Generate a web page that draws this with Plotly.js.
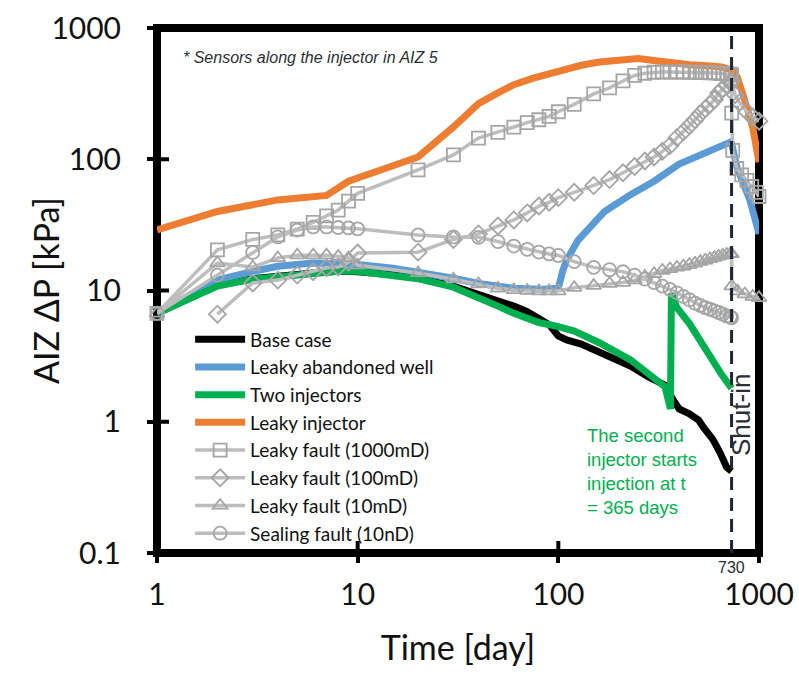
<!DOCTYPE html>
<html>
<head>
<meta charset="utf-8">
<script src="https://cdn.plot.ly/plotly-3.0.1.min.js"></script>
<style>
  html, body { margin: 0; padding: 0; background: #ffffff; }
  #chart { width: 799px; height: 675px; }
</style>
</head>
<body>
<div id="chart"></div>
<script>
// ---------------- data ----------------
const X_TICKS = [1, 10, 100, 1000];
const X_TICK_TEXT = ['1', '10', '100', '1000'];
const Y_TICKS = [0.1, 1, 10, 100, 1000];
const Y_TICK_TEXT = ['0.1', '1', '10', '100', '1000'];
const SHUT_IN_DAY = 730;

const T_BASE = [1, 2, 3, 4, 6, 8, 10, 15, 20, 30, 40, 50, 60, 70, 80, 90, 100, 110, 130, 160, 200, 230, 280, 340, 370, 400, 450, 500, 530, 590, 640, 690, 730];
const P_BASE = [6.7, 11.0, 12.3, 12.9, 13.6, 14.0, 13.9, 13.2, 12.4, 10.8, 9.4, 8.5, 7.6, 6.9, 6.2, 5.5, 4.5, 4.2, 3.9, 3.4, 3.0, 2.65, 2.2, 1.9, 1.5, 1.25, 1.15, 1.03, 0.9, 0.73, 0.58, 0.45, 0.42];

const T_ABANDONED = [1, 2, 3, 4, 6, 8, 10, 15, 20, 30, 40, 50, 60, 80, 100, 105, 110, 125, 150, 170, 230, 300, 400, 530, 670, 720, 730, 776, 900, 1000];
const P_ABANDONED = [6.7, 12.0, 14.0, 15.3, 16.2, 16.2, 15.8, 14.8, 13.8, 12.4, 11.3, 10.7, 10.4, 10.2, 10.4, 14.0, 17.0, 24.0, 33.0, 40.0, 54.0, 68.0, 92.0, 112.0, 130.0, 135.0, 132.0, 87.0, 49.0, 27.0];

const T_TWO_INJ = [1, 2, 3, 4, 6, 8, 10, 15, 20, 30, 40, 50, 60, 80, 100, 120, 160, 230, 340, 362, 366, 390, 450, 500, 600, 650, 730];
const P_TWO_INJ = [6.7, 10.8, 12.2, 12.8, 13.6, 14.0, 14.0, 13.2, 12.3, 10.6, 8.9, 7.6, 6.7, 5.7, 5.3, 4.9, 4.0, 2.95, 1.85, 1.25, 9.5, 7.4, 5.6, 4.3, 2.75, 2.3, 1.8];

const T_LEAKY_INJ = [1, 2, 3, 4, 7, 9, 10, 20, 30, 40, 50, 60, 75, 90, 110, 130, 160, 200, 250, 300, 370, 450, 550, 650, 730, 780, 870, 930, 1000];
const P_LEAKY_INJ = [29, 40, 45, 49, 53, 68, 72, 104, 176, 265, 320, 370, 415, 450, 480, 520, 550, 575, 585, 565, 540, 525, 515, 505, 480, 420, 250, 175, 95];

const T_FAULT_1000 = [1, 2, 3, 4, 5, 6, 7, 8, 9, 10, 20, 30, 40, 50, 60, 70, 80, 90, 100, 120, 150, 180, 210, 240, 270, 300, 330, 360, 390, 420, 450, 480, 510, 540, 570, 600, 630, 660, 690, 720, 730, 731, 740, 775, 820, 870, 920, 970, 1000];
const P_FAULT_1000 = [6.7, 20.4, 24.5, 26.5, 29.4, 33, 37, 41, 48, 55, 83, 108, 145, 160, 176, 190, 200, 212, 230, 262, 315, 350, 395, 435, 452, 460, 462, 462, 462, 462, 460, 460, 458, 458, 456, 455, 452, 450, 448, 445, 440, 225, 117, 85, 76, 69, 62, 56, 52];

const T_FAULT_100 = [2, 3, 4, 5, 6, 7, 8, 9, 10, 20, 30, 40, 50, 60, 70, 80, 90, 100, 120, 150, 180, 210, 240, 270, 300, 330, 360, 390, 420, 450, 480, 510, 540, 570, 600, 630, 660, 690, 720, 730, 760, 800, 870, 930, 1000];
const P_FAULT_100 = [6.6, 11.4, 12.0, 13.1, 13.9, 14.9, 15.1, 16.5, 19.3, 19.6, 24.5, 27, 31, 34.5, 39, 44, 47, 51, 56, 63, 70, 79, 88, 97, 104, 115, 127, 146, 162, 180, 200, 222, 243, 262, 285, 320, 345, 365, 385, 390, 310, 270, 230, 210, 195];

const T_FAULT_10 = [1, 2, 3, 4, 5, 6, 7, 8, 9, 10, 20, 30, 40, 50, 60, 70, 80, 90, 100, 120, 150, 180, 210, 240, 270, 300, 330, 360, 390, 420, 450, 480, 510, 540, 570, 600, 630, 660, 690, 720, 730, 731, 780, 850, 930, 1000];
const P_FAULT_10 = [6.7, 16.2, 15.1, 17.7, 18.6, 18.6, 18.6, 18.2, 17.7, 15.6, 13.6, 12.2, 11.2, 10.4, 10.1, 10.0, 9.9, 9.9, 9.9, 10.5, 10.9, 11.3, 11.5, 12.0, 12.8, 13.4, 14.2, 14.6, 15.0, 15.3, 15.7, 16.1, 16.6, 17.0, 17.4, 17.8, 18.2, 18.5, 18.8, 19.0, 19.0, 10.8, 9.9, 9.4, 9.0, 8.8];

const T_SEALING = [1, 2, 3, 4, 5, 6, 7, 8, 9, 10, 20, 30, 40, 50, 60, 70, 80, 90, 100, 120, 150, 180, 210, 240, 270, 300, 330, 360, 390, 420, 450, 480, 510, 540, 570, 600, 630, 660, 690, 720, 730];
const P_SEALING = [6.7, 13.1, 19.5, 25.6, 28.9, 30.5, 30.5, 30.2, 30.0, 29.5, 26.5, 25.6, 25.4, 23.6, 21.8, 20.6, 19.6, 19.0, 18.5, 16.6, 15.0, 14.4, 13.9, 13.1, 12.2, 11.5, 10.8, 10.2, 9.6, 9.0, 8.5, 8.0, 7.7, 7.4, 7.2, 7.0, 6.8, 6.6, 6.4, 6.3, 6.2];

// ---------------- styles ----------------
const CALIBRI_LIKE = 'Lato, "Open Sans", sans-serif';
const ARIAL_LIKE = '"Liberation Sans", Arial, sans-serif';
const GRAY_LINE = '#bdbdbd';
const GRAY_MARK = '#a5a5a5';
const PLOT_W = 602, PLOT_H = 525, INNER_TICK = 12;

function solid(name, x, y, color) {
  return { type: 'scatter', mode: 'lines', name: name, x: x, y: y,
           line: { color: color, width: 7 }, cliponaxis: false, hoverinfo: 'skip' };
}
function marked(name, x, y, symbol) {
  return { type: 'scatter', mode: 'lines+markers', name: name, x: x, y: y,
           line: { color: GRAY_LINE, width: 3.5 },
           marker: { symbol: symbol, size: 13, color: GRAY_MARK, line: { color: GRAY_MARK, width: 1.8 } },
           cliponaxis: false, hoverinfo: 'skip' };
}

const traces = [
  solid('Base case', T_BASE, P_BASE, '#000000'),
  solid('Leaky abandoned well', T_ABANDONED, P_ABANDONED, '#5b9bd5'),
  solid('Two injectors', T_TWO_INJ, P_TWO_INJ, '#00b050'),
  solid('Leaky injector', T_LEAKY_INJ, P_LEAKY_INJ, '#ed7d31'),
  marked('Leaky fault (1000mD)', T_FAULT_1000, P_FAULT_1000, 'square-open'),
  marked('Leaky fault (100mD)', T_FAULT_100, P_FAULT_100, 'diamond-open'),
  marked('Leaky fault (10mD)', T_FAULT_10, P_FAULT_10, 'triangle-up-open'),
  marked('Sealing fault (10nD)', T_SEALING, P_SEALING, 'circle-open')
];

const axisCommon = {
  type: 'log', showgrid: false, zeroline: false, showline: false,
  ticks: 'outside', ticklen: 9, tickwidth: 4, tickcolor: '#000000',
  tickfont: { family: CALIBRI_LIKE, size: 30, color: '#111111' },
  automargin: false
};

// frame + dashed shut-in line + inner half of the crossing tick marks
const shapes = [
  { type: 'rect', xref: 'paper', yref: 'paper', x0: 0, x1: 1, y0: 0, y1: 1,
    line: { color: '#000000', width: 8 }, fillcolor: 'rgba(0,0,0,0)', layer: 'below' },
  { type: 'line', xref: 'x', yref: 'paper', x0: SHUT_IN_DAY, x1: SHUT_IN_DAY, y0: 0, y1: 1,
    line: { color: '#1f2733', width: 3, dash: '13px,8px' }, layer: 'above' }
];
X_TICKS.slice(1, -1).forEach(function (v) {
  shapes.push({ type: 'line', xref: 'x', yref: 'paper', x0: v, x1: v, y0: 0, y1: INNER_TICK / PLOT_H,
                line: { color: '#000000', width: 4 }, layer: 'above' });
});
Y_TICKS.slice(1, -1).forEach(function (v) {
  shapes.push({ type: 'line', xref: 'paper', yref: 'y', x0: 0, x1: INNER_TICK / PLOT_W, y0: v, y1: v,
                line: { color: '#000000', width: 4 }, layer: 'above' });
});

const layout = {
  width: 799, height: 675,
  margin: { l: 157, r: 40, t: 28, b: 122, pad: 0 },
  paper_bgcolor: '#ffffff', plot_bgcolor: '#ffffff',
  font: { family: CALIBRI_LIKE, color: '#111111' },
  showlegend: true,
  legend: {
    x: 0.055, y: 0.443, xanchor: 'left', yanchor: 'top',
    bgcolor: 'rgba(0,0,0,0)', borderwidth: 0,
    font: { family: CALIBRI_LIKE, size: 19, color: '#111111' },
    tracegroupgap: 0, itemwidth: 50
  },
  xaxis: Object.assign({}, axisCommon, {
    range: [0, 3], tickvals: X_TICKS, ticktext: X_TICK_TEXT,
    ticklabelstandoff: 6,
    title: { text: 'Time [day]', font: { family: CALIBRI_LIKE, size: 34, color: '#111111' }, standoff: 26 }
  }),
  yaxis: Object.assign({}, axisCommon, {
    range: [-1, 3], tickvals: Y_TICKS, ticktext: Y_TICK_TEXT,
    ticklabelstandoff: 20,
    title: { text: '' }
  }),
  shapes: shapes,
  annotations: [
    { xref: 'paper', yref: 'paper', x: -0.1844, y: 0.501, xanchor: 'center', yanchor: 'middle',
      text: 'AIZ ΔP [kPa]', textangle: -90, showarrow: false,
      font: { family: CALIBRI_LIKE, size: 34, color: '#111111' } },
    { xref: 'paper', yref: 'paper', x: 0.04, y: 0.943, xanchor: 'left', yanchor: 'middle',
      text: '<i>* Sensors along the injector in AIZ 5</i>', showarrow: false,
      font: { family: ARIAL_LIKE, size: 16, color: '#2b2f36' } },
    { xref: 'paper', yref: 'paper', x: 0.711, y: 0.156, xanchor: 'left', yanchor: 'middle', align: 'left',
      text: 'The second<br>injector starts<br>injection at t<br>= 365 days', showarrow: false,
      font: { family: ARIAL_LIKE, size: 18.5, color: '#00b050' } },
    { xref: 'x', yref: 'paper', x: Math.log10(SHUT_IN_DAY), y: -0.028, xanchor: 'center', yanchor: 'middle',
      text: String(SHUT_IN_DAY), showarrow: false,
      font: { family: ARIAL_LIKE, size: 16, color: '#2b2f36' } },
    { xref: 'paper', yref: 'paper', x: 0.971, y: 0.262, xanchor: 'center', yanchor: 'middle',
      text: 'Shut-in', textangle: -90, showarrow: false,
      font: { family: ARIAL_LIKE, size: 26, color: '#2b2f36' } }
  ]
};

Plotly.newPlot('chart', traces, layout, { displayModeBar: false, staticPlot: true });
</script>
</body>
</html>
